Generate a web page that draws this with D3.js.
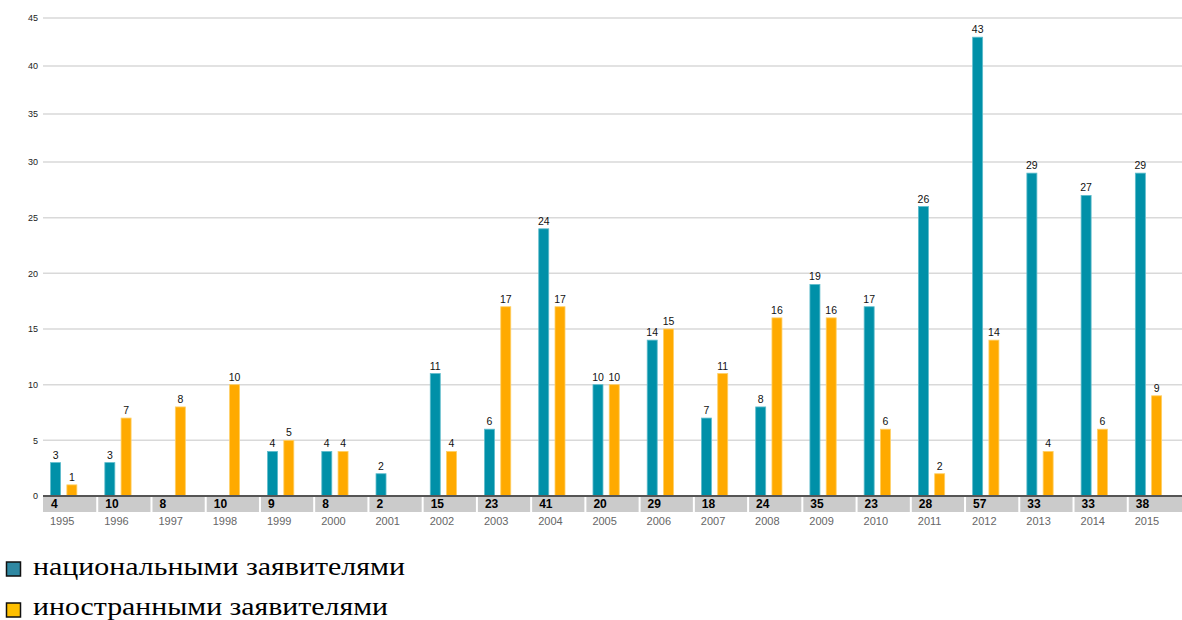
<!DOCTYPE html>
<html>
<head>
<meta charset="utf-8">
<script src="https://cdn.jsdelivr.net/npm/d3@7"></script>
<style>
  html, body { margin: 0; padding: 0; background: #fff; }
  svg { display: block; }
  .legend-text { font-family: "Times New Roman", "Liberation Serif", Tinos, "Noto Serif", "DejaVu Serif", FreeSerif, serif; }
</style>
</head>
<body>
<svg id="chart" width="1182" height="620"></svg>
<script>
// Patent grants by year: national vs. foreign applicants
const years = ["1995","1996","1997","1998","1999","2000","2001","2002","2003","2004","2005",
               "2006","2007","2008","2009","2010","2011","2012","2013","2014","2015"];
const national = [3, 3, 0, 0, 4, 4, 2, 11, 6, 24, 10, 14, 7, 8, 19, 17, 26, 43, 29, 27, 29];
const foreign  = [1, 7, 8, 10, 5, 4, 0, 4, 17, 17, 10, 15, 11, 16, 16, 6, 2, 14, 4, 6, 9];
const totals   = [4, 10, 8, 10, 9, 8, 2, 15, 23, 41, 20, 29, 18, 24, 35, 23, 28, 57, 33, 33, 38];
const yTicks   = [0, 5, 10, 15, 20, 25, 30, 35, 40, 45];
const seriesNames = ["национальными заявителями", "иностранными заявителями"];

const svg = d3.select("#chart");
const plotLeft = 43, plotRight = 1182, plotBase = 496, plotTop = 18;

const x = d3.scaleBand().domain(years).range([plotLeft, plotRight]).padding(0);
// value axis: upper section (30–45) is drawn slightly compressed
const y = d3.scaleLinear().domain([0, 30, 45]).range([plotBase, 162, plotTop]);
const bw = x.bandwidth();

const teal = "#0090a8", orange = "#ffaa00";
const barW = 10;
const offNat = bw * 0.14, offFor = bw * 0.44;
const sans = "'Liberation Sans', Arial, sans-serif";

// Grid lines
svg.append("g")
  .selectAll("line").data(yTicks.filter(d => d > 0)).join("line")
  .attr("x1", plotLeft).attr("x2", plotRight)
  .attr("y1", d => y(d)).attr("y2", d => y(d))
  .attr("stroke", "#d9d9d9").attr("stroke-width", 1.5);

// Y axis labels
const yAxis = d3.axisLeft(y).tickValues(yTicks).tickSize(0).tickPadding(5);
const gy = svg.append("g").attr("transform", `translate(${plotLeft},0)`).call(yAxis);
gy.select(".domain").remove();
gy.selectAll("text").attr("font-family", sans)
  .attr("font-size", 9).attr("fill", "#222");

// Bars
const series = [
  { values: national, color: teal, edge: "#5fbccc", off: offNat },
  { values: foreign, color: orange, edge: "#ffd066", off: offFor }
];
series.forEach(s => {
  const g = svg.append("g");
  const data = years.map((yr, i) => ({ yr, v: s.values[i] })).filter(d => d.v > 0);
  g.selectAll("rect").data(data).join("rect")
    .attr("x", d => x(d.yr) + s.off)
    .attr("y", d => y(d.v))
    .attr("width", barW)
    .attr("height", d => plotBase - y(d.v))
    .attr("fill", s.color)
    .attr("stroke", s.edge).attr("stroke-width", 0.8);
  g.selectAll("text").data(data).join("text")
    .attr("x", d => x(d.yr) + s.off + barW / 2)
    .attr("y", d => y(d.v) - 4)
    .attr("text-anchor", "middle")
    .attr("font-family", sans)
    .attr("font-size", 10.5).attr("fill", "#111")
    .text(d => d.v);
});

// Totals strip under the axis
const strip = svg.append("g");
strip.selectAll("rect").data(years).join("rect")
  .attr("x", d => x(d)).attr("y", plotBase + 1)
  .attr("width", bw).attr("height", 15)
  .attr("fill", "#cbcbcb");
strip.selectAll("line.sep").data(years.slice(1)).join("line")
  .attr("class", "sep")
  .attr("x1", d => x(d)).attr("x2", d => x(d))
  .attr("y1", plotBase + 1).attr("y2", plotBase + 16)
  .attr("stroke", "#fff").attr("stroke-width", 2);
strip.selectAll("text").data(years).join("text")
  .attr("x", d => x(d) + 8).attr("y", plotBase + 12)
  .attr("font-family", sans)
  .attr("font-weight", "bold").attr("font-size", 12).attr("fill", "#000")
  .text((d, i) => totals[i]);

// Baseline
svg.append("line")
  .attr("x1", plotLeft).attr("x2", plotRight).attr("y1", plotBase).attr("y2", plotBase)
  .attr("stroke", "#555").attr("stroke-width", 2);

// Year labels
svg.append("g").selectAll("text").data(years).join("text")
  .attr("x", d => x(d) + 7).attr("y", plotBase + 29)
  .attr("font-family", sans)
  .attr("font-size", 11).attr("fill", "#666")
  .text(d => d);

// Legend
const legend = svg.append("g");
const legColors = ["#2f88a2", "#ffc000"];
const legRows = [{ sq: 562, base: 575, len: 372 }, { sq: 603, base: 615, len: 355 }];
seriesNames.forEach((name, i) => {
  const r = legRows[i];
  legend.append("rect")
    .attr("x", 6.5).attr("y", r.sq).attr("width", 14).attr("height", 14)
    .attr("fill", legColors[i]).attr("stroke", "#111").attr("stroke-width", 1.5);
  legend.append("text")
    .attr("class", "legend-text")
    .attr("x", 33).attr("y", r.base)
    .attr("font-size", 26).attr("fill", "#000")
    .attr("textLength", r.len).attr("lengthAdjust", "spacingAndGlyphs")
    .text(name);
});
</script>
</body>
</html>
